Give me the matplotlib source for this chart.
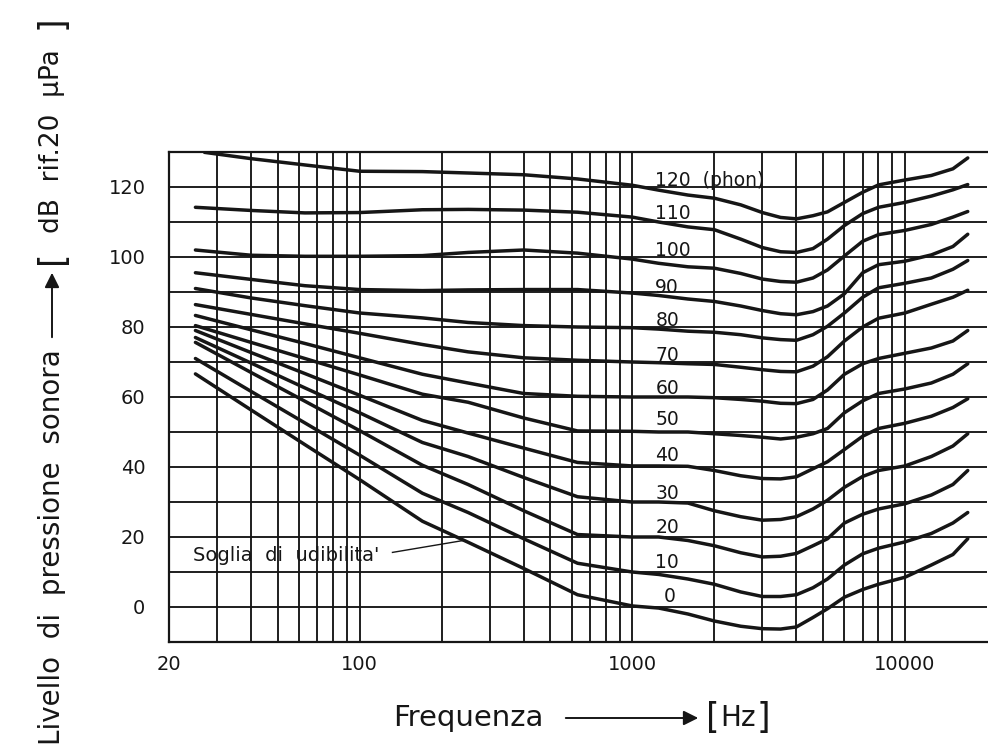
import numpy as np
import matplotlib
matplotlib.use("Agg")
import matplotlib.pyplot as plt
from matplotlib.ticker import NullLocator

# ---------------- data ----------------
freq = [25, 40, 63, 100, 170, 250, 400, 630, 1000, 1250, 1600, 2000, 2500,
        3000, 3500, 4000, 4600, 5200, 6000, 7000, 8000, 10000, 12500, 15000, 17000]

spl_120 = [129.9, 128.1, 126.3, 124.5, 124.4, 124.0, 123.5, 122.3, 120.5, 119.1, 117.7, 116.8, 114.9,
           112.7, 111.3, 110.9, 111.8, 112.9, 115.6, 118.5, 120.6, 122.0, 123.3, 125.2, 128.3]
spl_110 = [114.2, 113.3, 112.6, 112.7, 113.5, 113.6, 113.4, 112.8, 111.4, 110.0, 108.6, 107.8, 105.1,
           102.7, 101.5, 101.3, 102.4, 105.1, 109.0, 112.4, 114.2, 115.6, 117.4, 119.2, 120.7]
spl_100 = [102.0, 100.5, 100.2, 100.2, 100.4, 101.3, 102.0, 101.1, 99.4, 98.2, 97.2, 96.8, 95.3,
           93.7, 93.0, 92.8, 94.0, 96.3, 100.3, 104.5, 106.4, 107.6, 109.3, 111.4, 113.0]
spl_90 = [95.5, 93.6, 91.8, 90.7, 90.4, 90.6, 90.7, 90.7, 89.7, 89.0, 88.0, 87.3, 86.0,
          84.7, 83.8, 83.5, 84.4, 86.0, 89.5, 95.5, 97.8, 98.8, 100.6, 103.0, 106.5]
spl_80 = [91.0, 88.3, 86.1, 84.0, 82.6, 81.3, 80.4, 80.0, 79.8, 79.4, 78.8, 78.5, 77.8,
          76.9, 76.4, 76.2, 77.8, 80.2, 84.0, 88.5, 91.2, 92.5, 94.0, 96.5, 99.0]
spl_70 = [86.4, 83.6, 80.9, 78.2, 75.0, 72.9, 71.2, 70.5, 70.0, 69.8, 69.5, 69.3, 68.5,
          67.8, 67.3, 67.2, 68.8, 71.5, 76.0, 80.0, 82.5, 84.0, 86.5, 88.5, 90.5]
spl_60 = [83.3, 79.2, 75.3, 71.2, 66.5, 64.0, 61.0, 60.2, 60.0, 60.0, 60.0, 59.8, 59.3,
          58.8, 58.2, 58.1, 59.3, 62.0, 66.5, 69.5, 71.0, 72.5, 74.0, 76.0, 79.0]
spl_50 = [80.4, 75.6, 71.0, 66.3, 60.8, 58.5, 54.0, 50.3, 50.2, 50.0, 50.0, 49.5, 49.0,
          48.5, 48.0, 48.5, 49.5, 51.0, 55.5, 58.9, 61.0, 62.3, 64.0, 66.5, 69.5]
spl_40 = [79.0, 72.7, 66.7, 60.5, 53.3, 49.7, 45.4, 41.3, 40.3, 40.3, 40.2, 39.0, 37.5,
          36.7, 36.6, 37.2, 39.5, 41.5, 45.0, 48.8, 51.0, 52.5, 54.5, 57.0, 59.5]
spl_30 = [77.0, 69.7, 62.6, 55.5, 47.0, 43.0, 37.0, 31.5, 30.0, 30.0, 29.7, 27.5, 25.8,
          24.8, 25.0, 25.8, 28.0, 30.5, 34.2, 37.3, 39.0, 40.3, 43.0, 46.0, 49.5]
spl_20 = [75.6, 67.0, 58.8, 50.4, 40.5, 35.0, 27.5, 20.7, 20.0, 20.0, 19.0, 17.5, 15.5,
          14.3, 14.5, 15.3, 17.5, 19.5, 24.0, 26.5, 28.0, 29.5, 32.0, 35.0, 39.0]
spl_10 = [71.0, 61.6, 52.6, 43.4, 32.5, 27.0, 19.5, 12.5, 10.0, 9.3, 8.0, 6.5, 4.3,
          3.0, 3.0, 3.5, 5.5, 8.0, 12.0, 15.2, 16.8, 18.6, 21.0, 24.0, 27.0]
spl_0 = [66.6, 56.3, 46.4, 36.4, 24.5, 18.5, 11.0, 3.5, 0.3, -0.3, -2.0, -4.0, -5.5,
         -6.2, -6.3, -5.7, -3.0, -0.5, 2.8, 5.0, 6.5, 8.5, 12.0, 15.0, 19.5]

phon = [120, 110, 100, 90, 80, 70, 60, 50, 40, 30, 20, 10, 0]
curves = [spl_120, spl_110, spl_100, spl_90, spl_80, spl_70, spl_60,
          spl_50, spl_40, spl_30, spl_20, spl_10, spl_0]
start_freq_120 = 27   # the 120 phon curve starts a little later

curve_labels = ["120  (phon)", "110", "100", "90", "80", "70", "60",
                "50", "40", "30", "20", "10", "0"]
label_db = [122.0, 112.4, 102.0, 91.4, 82.0, 71.9, 62.3, 53.7, 43.3, 32.4, 22.8, 12.6, 3.1]

grid_freqs = [30, 40, 50, 60, 70, 80, 90, 100,
              200, 300, 400, 500, 600, 700, 800, 900, 1000,
              2000, 3000, 4000, 5000, 6000, 7000, 8000, 9000, 10000]
x_ticks = [20, 100, 1000, 10000]
x_tick_labels = ["20", "100", "1000", "10000"]
y_grid = list(range(-10, 131, 10))
y_ticks = [0, 20, 40, 60, 80, 100, 120]

# ---------------- drawing ----------------
ink = "#161616"
W, H = 988, 749
fig = plt.figure(figsize=(W / 100, H / 100), dpi=100)
fig.patch.set_facecolor("white")
ax = fig.add_axes([169 / W, 1 - 642 / H, (987 - 169) / W, (642 - 152) / H])
ax.set_xscale("log")
ax.set_xlim(20, 20000)
ax.set_ylim(-10, 130)

for f in grid_freqs:
    ax.axvline(f, color=ink, lw=1.35, zorder=1)
for y in y_grid:
    ax.axhline(y, color=ink, lw=1.35, zorder=1)

for p, vals in zip(phon, curves):
    fx = list(freq)
    if p == 120:
        fx[0] = start_freq_120
    ax.plot(fx, vals, color=ink, lw=2.5, solid_joinstyle="round",
            solid_capstyle="round", zorder=3)

for txt, yd in zip(curve_labels, label_db):
    xf = 1300 if txt == "0" else 1215
    ax.text(xf, yd, txt, fontsize=13.5, color=ink, ha="left", va="center", zorder=4)

ax.text(24.5, 14.6, "Soglia  di  udibilita'", fontsize=14, color=ink,
        ha="left", va="center", zorder=4)
ax.plot([132, 240], [15.6, 19.0], color=ink, lw=1.0, zorder=4)

ax.set_xticks(x_ticks)
ax.set_xticklabels(x_tick_labels)
ax.xaxis.set_minor_locator(NullLocator())
ax.set_yticks(y_ticks)
ax.tick_params(axis="both", length=0, labelsize=14, colors=ink)
ax.tick_params(axis="x", pad=9)
ax.tick_params(axis="y", pad=17)
for s in ["left", "top", "bottom"]:
    ax.spines[s].set_linewidth(1.6)
    ax.spines[s].set_color(ink)
ax.spines["right"].set_visible(False)

# x axis label: Frequenza ----> [Hz]
ylab = 1 - 718 / H
fig.text(468 / W, ylab, "Frequenza", fontsize=21, color=ink, ha="center", va="center")
fig.add_artist(matplotlib.patches.FancyArrowPatch(
    (563 / W, ylab), (701 / W, ylab), transform=fig.transFigure,
    arrowstyle="-|>", mutation_scale=22, color=ink, lw=1.4))
fig.text(713 / W, ylab, "[", fontsize=25, color=ink, ha="center", va="center")
fig.text(738 / W, ylab, "Hz", fontsize=20, color=ink, ha="center", va="center")
fig.text(763 / W, ylab, "]", fontsize=25, color=ink, ha="center", va="center")

# y axis label: Livello di pressione sonora ----> [dB rif.20 uPa]
xlab = 52 / W
fig.text(xlab, 1 - 547 / H, "Livello  di  pressione  sonora", fontsize=20, color=ink,
         rotation=90, ha="center", va="center")
fig.add_artist(matplotlib.patches.FancyArrowPatch(
    (xlab, 1 - 340 / H), (xlab, 1 - 270 / H), transform=fig.transFigure,
    arrowstyle="-|>", mutation_scale=22, color=ink, lw=1.4))
fig.text(xlab, 1 - 257 / H, "[", fontsize=25, color=ink, rotation=90, ha="center", va="center")
fig.text(xlab, 1 - 141 / H, "dB  rif.20  μPa", fontsize=19, color=ink,
         rotation=90, ha="center", va="center")
fig.text(xlab, 1 - 22 / H, "]", fontsize=25, color=ink, rotation=90, ha="center", va="center")

fig.savefig("out.png", dpi=100, facecolor="white")
